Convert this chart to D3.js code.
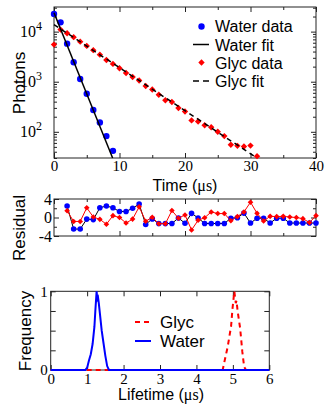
<!DOCTYPE html>
<html>
<head>
<meta charset="utf-8">
<script src="https://d3js.org/d3.v7.min.js"></script>
<style>
  body { margin: 0; background: #fff; }
  .title { font-family: "Liberation Sans", Arial, sans-serif; font-size: 17px; fill: #000; }
</style>
</head>
<body>
<svg width="326" height="404"></svg>
<script>
// decay data
const waterT = [0, 1, 2, 3, 4, 5, 6, 7, 8, 9];
const waterCounts = [22600, 15300, 5750, 2450, 1130, 575, 272, 153, 82, 41.7];
const glycT = [0, 1, 2, 3, 4, 5, 6, 7, 8, 9, 10, 11, 12, 13, 14, 15, 16, 17, 18, 19, 20, 21, 22, 23, 24, 25, 26, 27, 28, 29, 30, 31];
const glycCounts = [5500, 10960, 9250, 7760, 6310, 5180, 4270, 3470, 2720, 2270, 1860, 1490, 1240, 1060, 820, 700,
                    550, 427, 393, 299, 255, 169, 161, 135, 123, 100, 82, 55, 52.5, 50.8, 53, 32.7];
// fit lines (end points, straight on log scale)
const waterFitT = [0, 8.95];
const waterFitY = [23700, 30];
const glycFitT = [0, 31];
const glycFitY = [13800, 30];

// residuals
const residT = [2, 3, 4, 5, 6, 7, 8, 9, 10, 11, 12, 13, 14, 15, 16, 17, 18, 19, 20, 21, 22, 23, 24, 25, 26, 27, 28, 29, 30, 31, 32, 33, 34, 35, 36, 37, 38, 39, 40];
const waterResid = [2.5, -2.5, -2.5, -0.35, -0.45, 2.1, 2.5, 2.1, 1.3, 1.3, 2.0, 2.9, -1.5, -0.3, -1.3, -1.3, -1.3, -0.1, -1.25, 0.9,
                    -0.1, -1.3, -1.3, -1.3, -1.3, -0.15, -0.05, 0.95, -1.2, -0.15, -0.15, -1.2, -0.15, -0.15, -1.2, -1.2, -1.2, -1.2, -1.2];
const glycResid = [1.45, -0.85, -0.85, 2.1, 0.1, -0.4, -1.45, 0.4, 0, -1.2, -0.35, 2.3, -0.8, 0.05, -1.35, -1.35, 1.5, -0.15, 0.55, -2.7,
                   -0.6, -0.05, 1.2, 0.85, 0.85, -0.7, 0.2, 1.2, 3.3, 0.9, -0.75, 0.25, 0.2, 0.25, 0.1, 0, -0.25, -1.1, 0.4];

// lifetime histograms
const waterLife = [0, 0.95, 1.0, 1.05, 1.1, 1.15, 1.2, 1.225, 1.26, 1.28, 1.3, 1.32, 1.35, 1.4, 1.45, 1.5, 1.55, 1.6, 6];
const waterFreq = [0, 0, 0.03, 0.12, 0.2, 0.33, 0.55, 0.75, 1.0, 0.9, 0.92, 0.85, 0.72, 0.5, 0.34, 0.18, 0.05, 0, 0];
const glycLife = [0, 4.72, 4.78, 4.86, 4.92, 4.95, 4.99, 5.04, 5.08, 5.1, 5.13, 5.2, 5.26, 5.31, 5.36, 6];
const glycFreq = [0, 0, 0.13, 0.3, 0.47, 0.55, 0.78, 1.0, 0.85, 0.88, 0.75, 0.53, 0.23, 0.04, 0, 0];

const BLUE = "#0000ff", RED = "#ff0000";
const SERIF = "'Liberation Serif', 'Times New Roman', serif";
const svg = d3.select("svg");
const intFmt = d => String(d).replace("\u2212", "-");

// draws inward ticks on all four sides of a box
function frame(x, y, xMajor, xMinor, yMajor, yMinor) {
  const [x0, x1] = x.range(), [y0, y1] = y.range();
  const g = svg.append("g");
  const tk = (ax, len) => ax.tickSizeInner(-len).tickSizeOuter(0).tickFormat("");
  g.append("g").attr("transform", `translate(0,${y0})`).call(tk(d3.axisBottom(x).tickValues(xMinor), 3));
  g.append("g").attr("transform", `translate(0,${y1})`).call(tk(d3.axisTop(x).tickValues(xMinor), 3));
  g.append("g").attr("transform", `translate(0,${y1})`).call(tk(d3.axisTop(x).tickValues(xMajor), 5));
  g.append("g").attr("transform", `translate(${x0},0)`).call(tk(d3.axisLeft(y).tickValues(yMinor), 3));
  g.append("g").attr("transform", `translate(${x1},0)`).call(tk(d3.axisRight(y).tickValues(yMinor), 3));
  g.append("g").attr("transform", `translate(${x1},0)`).call(tk(d3.axisRight(y).tickValues(yMajor), 5));
  g.selectAll(".domain").remove();
  g.selectAll("line").attr("stroke", "#222");
  svg.append("rect").attr("x", x0).attr("y", y1).attr("width", x1 - x0).attr("height", y0 - y1)
    .attr("fill", "none").attr("stroke", "#222").attr("stroke-width", 1);
}

// labelled axis with inward ticks, serif numbers
function labelAxis(axis, tr, size) {
  return svg.append("g").attr("transform", tr)
    .call(axis.tickSizeInner(-5).tickSizeOuter(0))
    .call(g => g.select(".domain").remove())
    .call(g => g.selectAll("line").attr("stroke", "#222"))
    .call(g => g.selectAll("text").attr("font-family", SERIF).attr("font-size", size || 16).attr("fill", "#000"));
}

// ---------- top panel ----------
const x1 = d3.scaleLinear().domain([0, 40]).range([54, 316]);
const y1 = d3.scaleLog().domain([30, 31000]).range([158, 7]);
const logMinor = [30, 40, 50, 60, 70, 80, 90];
[100, 1000, 10000].forEach(b => { for (let k = 2; k <= 9; k++) if (b * k <= 31000) logMinor.push(b * k); });

frame(x1, y1, [0, 10, 20, 30, 40], [5, 15, 25, 35], [100, 1000, 10000], logMinor);

labelAxis(d3.axisBottom(x1).tickValues([0, 10, 20, 30, 40]).tickPadding(2), "translate(0,158)", 15);
labelAxis(d3.axisLeft(y1).tickValues([100, 1000, 10000]).tickPadding(8), "translate(54,0)")
  .selectAll(".tick text").each(function(d) {
    const t = d3.select(this).text("10").attr("x", -12);
    t.append("tspan").attr("dy", -7).attr("font-size", "12px").text(Math.round(Math.log10(d)));
  });

const line1 = d3.line().x(d => x1(d[0])).y(d => y1(d[1]));
svg.append("g").selectAll("circle").data(d3.zip(waterT, waterCounts)).join("circle")
  .attr("cx", d => x1(d[0])).attr("cy", d => y1(d[1])).attr("r", 3.2).attr("fill", BLUE);
svg.append("g").selectAll("path").data(d3.zip(glycT, glycCounts)).join("path")
  .attr("transform", d => `translate(${x1(d[0])},${y1(d[1])})`)
  .attr("d", d3.symbol(d3.symbolDiamond2, 26)).attr("fill", RED);
svg.append("path").datum(d3.zip(waterFitT, waterFitY)).attr("d", line1)
  .attr("fill", "none").attr("stroke", "#000").attr("stroke-width", 1.5);
svg.append("path").datum(d3.zip(glycFitT, glycFitY)).attr("d", line1)
  .attr("fill", "none").attr("stroke", "#000").attr("stroke-width", 1.5).attr("stroke-dasharray", "5,4");

// legend
const leg = svg.append("g");
leg.append("circle").attr("cx", 201.5).attr("cy", 26.5).attr("r", 3.2).attr("fill", BLUE);
leg.append("line").attr("x1", 193).attr("x2", 209).attr("y1", 44.5).attr("y2", 44.5).attr("stroke", "#000").attr("stroke-width", 1.5);
leg.append("path").attr("transform", "translate(201.5,62.5)").attr("d", d3.symbol(d3.symbolDiamond2, 26)).attr("fill", RED);
leg.append("line").attr("x1", 193).attr("x2", 209).attr("y1", 81).attr("y2", 81).attr("stroke", "#000").attr("stroke-width", 1.5).attr("stroke-dasharray", "6,4");
[["Water data", 32], ["Water fit", 50.5], ["Glyc data", 68.5], ["Glyc fit", 87]].forEach(([s, y]) =>
  leg.append("text").attr("class", "title").style("font-size", "16px").attr("x", 215).attr("y", y).text(s));

svg.append("text").attr("class", "title").attr("transform", "translate(25,83) rotate(-90)")
  .attr("text-anchor", "middle").text("Photons");
const tt = svg.append("text").attr("class", "title").attr("x", 185).attr("y", 191)
  .attr("text-anchor", "middle").style("font-size", "16px");
tt.append("tspan").text("Time (");
tt.append("tspan").style("font-family", SERIF).text("\u03bcs");
tt.append("tspan").text(")");

// ---------- residual panel ----------
const y2 = d3.scaleLinear().domain([-4, 4]).range([236, 199]);
frame(x1, y2, [0, 10, 20, 30, 40], [5, 15, 25, 35], [-4, 0, 4], [-2, 2]);
labelAxis(d3.axisBottom(x1).tickValues([10, 20, 30]).tickFormat(""), "translate(0,236)");
labelAxis(d3.axisLeft(y2).tickValues([-4, 0, 4]).tickPadding(2).tickFormat(intFmt), "translate(54,0)");

const line2 = d3.line().x(d => x1(d[0])).y(d => y2(d[1]));
svg.append("path").datum(d3.zip(residT, waterResid)).attr("d", line2)
  .attr("fill", "none").attr("stroke", "#000").attr("stroke-width", 1);
svg.append("g").selectAll("circle").data(d3.zip(residT, waterResid)).join("circle")
  .attr("cx", d => x1(d[0])).attr("cy", d => y2(d[1])).attr("r", 2.8).attr("fill", BLUE);
svg.append("path").datum(d3.zip(residT, glycResid)).attr("d", line2)
  .attr("fill", "none").attr("stroke", RED).attr("stroke-width", 1);
svg.append("g").selectAll("path").data(d3.zip(residT, glycResid)).join("path")
  .attr("transform", d => `translate(${x1(d[0])},${y2(d[1])})`)
  .attr("d", d3.symbol(d3.symbolDiamond2, 20)).attr("fill", RED);

svg.append("text").attr("class", "title").attr("transform", "translate(25,228) rotate(-90)")
  .attr("text-anchor", "middle").text("Residual");

// ---------- lifetime histogram ----------
const x3 = d3.scaleLinear().domain([0, 6]).range([50.7, 269.3]);
const y3 = d3.scaleLinear().domain([0, 1]).range([370, 291.3]);
frame(x3, y3, [0, 1, 2, 3, 4, 5, 6], [], [0, 0.25, 0.5, 0.75, 1], []);
labelAxis(d3.axisBottom(x3).tickValues([0, 1, 2, 3, 4, 5, 6]).tickPadding(3).tickFormat(intFmt), "translate(0,370)", 15);
labelAxis(d3.axisLeft(y3).tickValues([0, 0.25, 0.5, 0.75, 1]).tickPadding(3)
  .tickFormat(d => (d === 0 || d === 1) ? d : ""), "translate(50.7,0)", 15);

const line3 = d3.line().x(d => x3(d[0])).y(d => y3(d[1]));
svg.append("path").datum(d3.zip(glycLife, glycFreq)).attr("d", line3)
  .attr("fill", "none").attr("stroke", RED).attr("stroke-width", 2).attr("stroke-dasharray", "5,4");
svg.append("path").datum(d3.zip(waterLife, waterFreq)).attr("d", line3)
  .attr("fill", "none").attr("stroke", BLUE).attr("stroke-width", 2);

const leg3 = svg.append("g");
leg3.append("line").attr("x1", 135).attr("x2", 151).attr("y1", 322).attr("y2", 322)
  .attr("stroke", RED).attr("stroke-width", 2).attr("stroke-dasharray", "5,4");
leg3.append("line").attr("x1", 135).attr("x2", 151).attr("y1", 341).attr("y2", 341)
  .attr("stroke", BLUE).attr("stroke-width", 2);
leg3.append("text").attr("class", "title").attr("x", 160).attr("y", 328).text("Glyc");
leg3.append("text").attr("class", "title").attr("x", 160).attr("y", 347).text("Water");

svg.append("text").attr("class", "title").attr("transform", "translate(31,331) rotate(-90)")
  .attr("text-anchor", "middle").text("Frequency");
const lt = svg.append("text").attr("class", "title").attr("x", 161).attr("y", 400)
  .attr("text-anchor", "middle").style("font-size", "16px");
lt.append("tspan").text("Lifetime (");
lt.append("tspan").style("font-family", SERIF).text("\u03bcs");
lt.append("tspan").text(")");
</script>
</body>
</html>
